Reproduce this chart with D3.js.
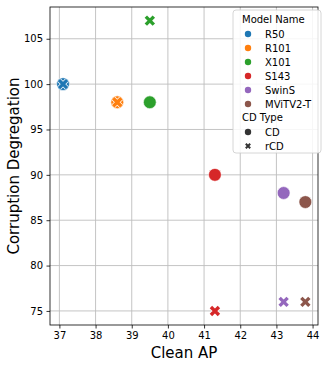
<!DOCTYPE html>
<html>
<head>
<meta charset="utf-8">
<title>Clean AP vs Corruption Degregation</title>
<style>
  body { margin: 0; background: #fff; }
  text { font-family: "DejaVu Sans", sans-serif; }
</style>
</head>
<body>
<script src="https://cdn.jsdelivr.net/npm/d3@7"></script>
<script>
  var models = ["R50", "R101", "X101", "S143", "SwinS", "MViTV2-T"];
  var cleanAP = [37.1, 38.6, 39.5, 41.3, 43.2, 43.8];
  var cd = [100, 98, 98, 90, 88, 87];
  var rcd = [100, 98, 107, 75, 76, 76];
  var cdTypes = ["CD", "rCD"];
  var xTicks = [37, 38, 39, 40, 41, 42, 43, 44];
  var yTicks = [75, 80, 85, 90, 95, 100, 105];
  var colors = ["#1f77b4", "#ff7f0e", "#2ca02c", "#d62728", "#9467bd", "#8c564b"];

  var w = 326, h = 367;
  var m = { left: 50, top: 7, right: 8, bottom: 42 };

  var svg = d3.select("body").append("svg")
      .attr("width", w)
      .attr("height", h);

  var x = d3.scaleLinear().domain([36.74, 44.15]).range([m.left, w - m.right]);
  var y = d3.scaleLinear().domain([73.45, 108.5]).range([h - m.bottom, m.top]);

  // grid
  var grid = svg.append("g");
  grid.selectAll("line.gx")
    .data(xTicks)
    .enter().append("line")
      .attr("x1", function(d) { return x(d); })
      .attr("x2", function(d) { return x(d); })
      .attr("y1", y.range()[0])
      .attr("y2", y.range()[1])
      .attr("stroke", "#bdbdbd")
      .attr("stroke-width", 0.9);
  grid.selectAll("line.gy")
    .data(yTicks)
    .enter().append("line")
      .attr("y1", function(d) { return y(d); })
      .attr("y2", function(d) { return y(d); })
      .attr("x1", x.range()[0])
      .attr("x2", x.range()[1])
      .attr("stroke", "#bdbdbd")
      .attr("stroke-width", 0.9);

  // axes
  var xAxis = svg.append("g")
      .attr("transform", "translate(0," + (h - m.bottom) + ")")
      .call(d3.axisBottom(x).tickValues(xTicks).tickSize(3.5).tickPadding(3.5));
  var yAxis = svg.append("g")
      .attr("transform", "translate(" + m.left + ",0)")
      .call(d3.axisLeft(y).tickValues(yTicks).tickSize(3.5).tickPadding(3.5));
  [xAxis, yAxis].forEach(function(a) {
    a.selectAll("text").attr("font-size", "10px").attr("fill", "#000")
      .attr("font-family", "DejaVu Sans, sans-serif");
    a.selectAll("line").attr("stroke", "#000").attr("stroke-width", 0.8);
    a.select(".domain").remove();
  });

  // spines
  svg.append("rect")
      .attr("x", x.range()[0]).attr("y", y.range()[1])
      .attr("width", x.range()[1] - x.range()[0])
      .attr("height", y.range()[0] - y.range()[1])
      .attr("fill", "none").attr("stroke", "#000").attr("stroke-width", 0.8);

  // thick X marker, like matplotlib's "X"
  function crossPath(s) {
    return "M" + (-s) + "," + (-s) + "L" + s + "," + s + "M" + (-s) + "," + s + "L" + s + "," + (-s);
  }

  var pts = svg.append("g");
  // CD circles
  pts.selectAll("circle.cd")
    .data(models)
    .enter().append("circle")
      .attr("cx", function(d, i) { return x(cleanAP[i]); })
      .attr("cy", function(d, i) { return y(cd[i]); })
      .attr("r", 6.4)
      .attr("fill", function(d, i) { return colors[i]; })
      .attr("stroke", "#fff")
      .attr("stroke-width", 0.6);
  // rCD crosses: white edge underneath, then colour
  pts.selectAll("path.rcdEdge")
    .data(models)
    .enter().append("path")
      .attr("transform", function(d, i) { return "translate(" + x(cleanAP[i]) + "," + y(rcd[i]) + ")"; })
      .attr("d", crossPath(4))
      .attr("stroke", "#fff")
      .attr("stroke-width", 4.8)
      .attr("fill", "none");
  pts.selectAll("path.rcd")
    .data(models)
    .enter().append("path")
      .attr("transform", function(d, i) { return "translate(" + x(cleanAP[i]) + "," + y(rcd[i]) + ")"; })
      .attr("d", crossPath(4))
      .attr("stroke", function(d, i) { return colors[i]; })
      .attr("stroke-width", 3.4)
      .attr("fill", "none");

  // axis labels
  svg.append("text")
      .attr("x", (x.range()[0] + x.range()[1]) / 2)
      .attr("y", 358)
      .attr("text-anchor", "middle")
      .attr("font-size", "15px")
      .text("Clean AP");
  svg.append("text")
      .attr("transform", "translate(19," + ((y.range()[0] + y.range()[1]) / 2) + ") rotate(-90)")
      .attr("text-anchor", "middle")
      .attr("font-size", "15px")
      .text("Corruption Degregation");

  // legend
  var lg = svg.append("g").attr("transform", "translate(233,10)");
  lg.append("rect")
      .attr("width", 88).attr("height", 143).attr("rx", 3)
      .attr("fill", "#fff").attr("fill-opacity", 0.85)
      .attr("stroke", "#ccc").attr("stroke-width", 0.8);
  lg.append("text").attr("x", 9).attr("y", 13).attr("font-size", "10px").text("Model Name");
  lg.selectAll("g.m")
    .data(models)
    .enter().append("g")
      .attr("transform", function(d, i) { return "translate(0," + (24 + i * 14) + ")"; })
      .each(function(d, i) {
        var g = d3.select(this);
        g.append("circle").attr("cx", 15).attr("cy", 0).attr("r", 3.2).attr("fill", colors[i]);
        g.append("text").attr("x", 32).attr("y", 3.6).attr("font-size", "10px").text(d);
      });
  lg.append("text").attr("x", 9).attr("y", 111).attr("font-size", "10px").text("CD Type");
  lg.selectAll("g.t")
    .data(cdTypes)
    .enter().append("g")
      .attr("transform", function(d, i) { return "translate(0," + (122 + i * 14) + ")"; })
      .each(function(d, i) {
        var g = d3.select(this);
        if (i === 0) {
          g.append("circle").attr("cx", 15).attr("cy", 0).attr("r", 3.2).attr("fill", "#333");
        } else {
          g.append("path").attr("transform", "translate(15,0)")
            .attr("d", crossPath(2.2))
            .attr("stroke", "#333").attr("stroke-width", 2).attr("fill", "none");
        }
        g.append("text").attr("x", 32).attr("y", 3.6).attr("font-size", "10px").text(d);
      });
</script>
</body>
</html>
